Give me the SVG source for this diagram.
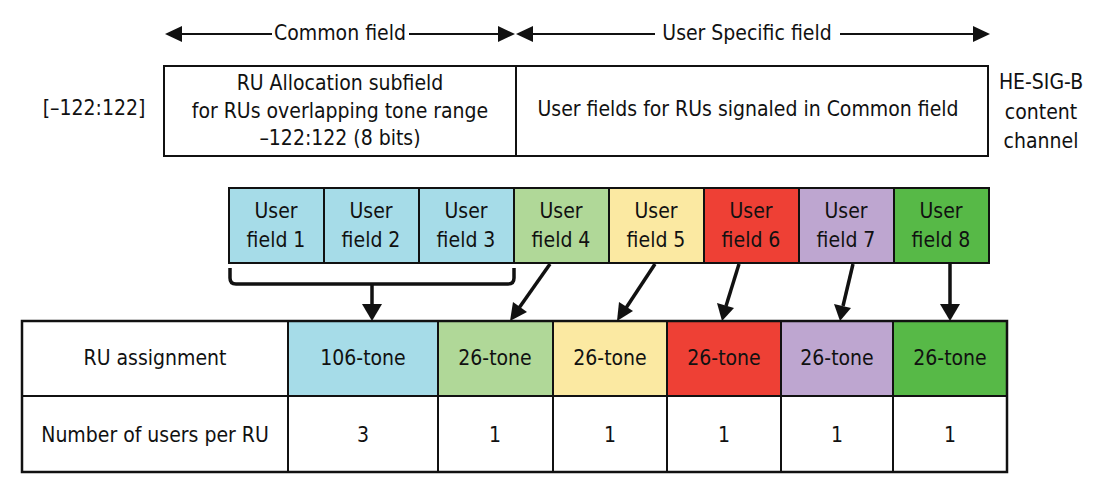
<svg xmlns="http://www.w3.org/2000/svg" width="1102" height="492" viewBox="0 0 1102 492">
<style>
text{font-family:"Liberation Sans Narrow","DejaVu Sans Condensed","Liberation Sans",sans-serif;font-size:21px;fill:#111;text-anchor:middle;dominant-baseline:central}
.box{stroke:#111;stroke-width:2}
.ln{stroke:#111;stroke-width:2;fill:none}
.arr{stroke:#111;stroke-width:3.5;fill:none}
</style>
<g id="header">
<line class="ln" x1="180" y1="34" x2="272" y2="34"/>
<line class="ln" x1="409" y1="34" x2="500" y2="34"/>
<path d="M165,34 L182,26 L182,42 Z" fill="#111"/>
<path d="M515,34 L498,26 L498,42 Z" fill="#111"/>
<text x="340" y="33">Common field</text>
<line class="ln" x1="530" y1="34" x2="655" y2="34"/>
<line class="ln" x1="840" y1="34" x2="975" y2="34"/>
<path d="M516,34 L533,26 L533,42 Z" fill="#111"/>
<path d="M990,34 L973,26 L973,42 Z" fill="#111"/>
<text x="747" y="33">User Specific field</text>
</g>
<g id="range-label"><text x="94" y="108">[–122:122]</text></g>
<g id="common-box">
<rect class="box" x="164" y="66" width="352" height="90" fill="#fff"/>
<text x="340" y="83">RU Allocation subfield</text>
<text x="340" y="111">for RUs overlapping tone range</text>
<text x="340" y="138">–122:122 (8 bits)</text>
</g>
<g id="user-box">
<rect class="box" x="516" y="66" width="472" height="90" fill="#fff"/>
<text x="748" y="109">User fields for RUs signaled in Common field</text>
</g>
<g id="channel-label">
<text x="1041" y="82">HE-SIG-B</text>
<text x="1041" y="112">content</text>
<text x="1041" y="141">channel</text>
</g>
<g id="uf1"><rect class="box" x="229" y="188" width="95" height="75" fill="#a6dce8"/><text x="276" y="211">User</text><text x="276" y="240">field 1</text></g>
<g id="uf2"><rect class="box" x="324" y="188" width="95" height="75" fill="#a6dce8"/><text x="371" y="211">User</text><text x="371" y="240">field 2</text></g>
<g id="uf3"><rect class="box" x="419" y="188" width="95" height="75" fill="#a6dce8"/><text x="466" y="211">User</text><text x="466" y="240">field 3</text></g>
<g id="uf4"><rect class="box" x="514" y="188" width="95" height="75" fill="#b0d898"/><text x="561" y="211">User</text><text x="561" y="240">field 4</text></g>
<g id="uf5"><rect class="box" x="609" y="188" width="95" height="75" fill="#fbe9a2"/><text x="656" y="211">User</text><text x="656" y="240">field 5</text></g>
<g id="uf6"><rect class="box" x="704" y="188" width="95" height="75" fill="#ee4035"/><text x="751" y="211">User</text><text x="751" y="240">field 6</text></g>
<g id="uf7"><rect class="box" x="799" y="188" width="95" height="75" fill="#bea6d0"/><text x="846" y="211">User</text><text x="846" y="240">field 7</text></g>
<g id="uf8"><rect class="box" x="894" y="188" width="95" height="75" fill="#57b947"/><text x="941" y="211">User</text><text x="941" y="240">field 8</text></g>
<g id="table">
<rect class="box" x="22" y="321" width="985" height="151" fill="#fff"/>
<rect class="box" x="288" y="321" width="150" height="75" fill="#a6dce8"/>
<rect class="box" x="438" y="321" width="115" height="75" fill="#b0d898"/>
<rect class="box" x="553" y="321" width="114" height="75" fill="#fbe9a2"/>
<rect class="box" x="667" y="321" width="114" height="75" fill="#ee4035"/>
<rect class="box" x="781" y="321" width="112" height="75" fill="#bea6d0"/>
<rect class="box" x="893" y="321" width="114" height="75" fill="#57b947"/>
<line class="ln" x1="22" y1="396" x2="1007" y2="396"/>
<line class="ln" x1="288" y1="396" x2="288" y2="472"/>
<line class="ln" x1="438" y1="396" x2="438" y2="472"/>
<line class="ln" x1="553" y1="396" x2="553" y2="472"/>
<line class="ln" x1="667" y1="396" x2="667" y2="472"/>
<line class="ln" x1="781" y1="396" x2="781" y2="472"/>
<line class="ln" x1="893" y1="396" x2="893" y2="472"/>
<rect x="22" y="321" width="985" height="151" fill="none" stroke="#111" stroke-width="2.5"/>
<text x="155" y="358">RU assignment</text>
<text x="363" y="358">106-tone</text>
<text x="495" y="358">26-tone</text>
<text x="610" y="358">26-tone</text>
<text x="724" y="358">26-tone</text>
<text x="837" y="358">26-tone</text>
<text x="950" y="358">26-tone</text>
<text x="155" y="435">Number of users per RU</text>
<text x="363" y="435">3</text>
<text x="495" y="435">1</text>
<text x="610" y="435">1</text>
<text x="724" y="435">1</text>
<text x="837" y="435">1</text>
<text x="950" y="435">1</text>
</g>
<g id="connectors">
<path class="arr" d="M230,268 L230,278 Q230,284 236,284 L508,284 Q514,284 514,278 L514,268"/>
<line class="arr" x1="372" y1="284" x2="372" y2="306"/>
<path d="M372,321 L362,304 L382,304 Z" fill="#111"/>
<line class="arr" x1="550" y1="264" x2="519" y2="308"/>
<path d="M510,321 L513,302 L527,312 Z" fill="#111"/>
<line class="arr" x1="655" y1="264" x2="626" y2="308"/>
<path d="M617,321 L619,302 L633,311 Z" fill="#111"/>
<line class="arr" x1="739" y1="264" x2="726" y2="306"/>
<path d="M722,321 L717,303 L734,308 Z" fill="#111"/>
<line class="arr" x1="853" y1="264" x2="843" y2="306"/>
<path d="M840,321 L834,304 L851,308 Z" fill="#111"/>
<line class="arr" x1="950" y1="264" x2="950" y2="306"/>
<path d="M950,321 L940,304 L960,304 Z" fill="#111"/>
</g>
</svg>
